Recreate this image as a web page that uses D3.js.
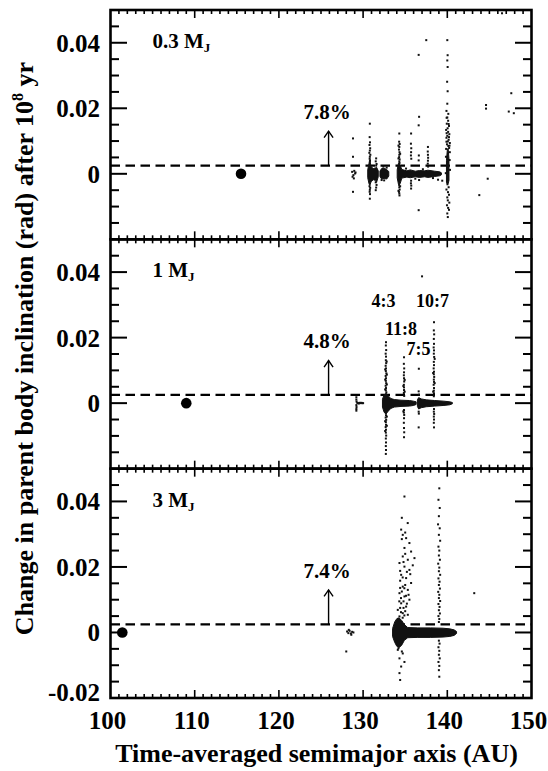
<!DOCTYPE html>
<html><head><meta charset="utf-8">
<script src="https://cdn.jsdelivr.net/npm/d3@7"></script>
<style>
body{margin:0;background:#fff}
svg{display:block}
</style></head><body>
<svg id="c" width="548" height="771"></svg>
<script>
// ---------------- data ----------------
const xDomain = [100, 150];
const yDomain = [-0.02, 0.05];
const xTickLabels = [100, 110, 120, 130, 140, 150];
const yTickLabelsTop = [0.04, 0.02, 0];
const yTickLabelsMid = [0.04, 0.02, 0];
const yTickLabelsBot = [0.04, 0.02, 0, -0.02];
const massLabels = ["0.3", "1", "3"];
const pctLabels = ["7.8%", "4.8%", "7.4%"];
const parentA = [115.5, 109.0, 101.4];
const parentDi = [0, 0, 0];
const threshold = 0.0025;
const arrowA = 125.9, arrowTopV = 0.013;
const resonanceNames = ["4:3", "11:8", "7:5", "10:7"];
const resonanceA = [132.42, 134.5, 136.57, 138.23];
const resonanceV = [0.0292, 0.0208, 0.0147, 0.0292];

// dense regions: [a, lower, upper]
const bandsTop = [
  [[130.55,-0.0012,0.0012],[130.7,-0.003,0.0032],[130.8,-0.0036,0.004],[130.95,-0.0024,0.0022],[131.2,-0.0018,0.0016],[131.45,-0.002,0.0018],[131.6,-0.0026,0.002],[131.8,-0.0009,0.0009]],
  [[132.0,-0.0008,0.0008],[132.2,-0.0016,0.0016],[132.5,-0.0014,0.0017],[132.8,-0.0016,0.0013],[133.05,-0.0007,0.0007]],
  [[134.05,-0.0012,0.0012],[134.2,-0.0032,0.0032],[134.4,-0.003,0.0026],[134.6,-0.0013,0.0013],[135.2,-0.001,0.0009],[135.6,-0.0012,0.0012],[136.2,-0.0009,0.0008],[136.7,-0.0011,0.001],[137.3,-0.0009,0.0009],[137.7,-0.0011,0.0011],[138.5,-0.0008,0.0008],[139.1,-0.0006,0.0006],[139.3,-0.0003,0.0003]],
  [[139.9,-0.0025,0.004],[140.0,-0.0032,0.0072],[140.1,-0.003,0.0078],[140.2,-0.002,0.0045]]
];
const bandsMid = [
  [[132.3,-0.0012,0.0012],[132.5,-0.0028,0.0026],[132.75,-0.0032,0.003],[133.0,-0.0024,0.0022],[133.3,-0.0016,0.0014],[133.7,-0.0012,0.0011],[134.5,-0.001,0.0009],[135.5,-0.0009,0.0008],[136.0,-0.0007,0.0006],[136.3,-0.0004,0.0004]],
  [[136.45,-0.001,0.001],[136.6,-0.0018,0.0017],[136.9,-0.0014,0.0013],[137.5,-0.0011,0.001],[138.5,-0.0009,0.0008],[139.6,-0.0007,0.0006],[140.3,-0.0005,0.0004],[140.6,-0.0002,0.0002]]
];
const bandsBot = [
  [[133.5,-0.0012,0.0012],[133.75,-0.003,0.0032],[134.0,-0.0042,0.0042],[134.3,-0.0046,0.0044],[134.6,-0.0038,0.0036],[134.9,-0.0024,0.0024],[135.3,-0.0016,0.0015],[136.5,-0.0015,0.0014],[138.0,-0.0015,0.0014],[139.5,-0.0014,0.0013],[140.3,-0.0012,0.0011],[140.8,-0.0009,0.0008],[141.1,-0.0003,0.0003]]
];

// individual particles: [a, delta i]
const pointsTop = [
  [128.8,0.0108],[128.8,0.0052],[128.7,0.0006],[128.85,-0.0004],[128.95,0.0009],[129.05,0.0001],[128.75,-0.0009],[129.1,0.0004],[128.9,-0.0014],[128.8,-0.0055],
  [130.8,0.0153],[130.78,0.0112],[130.82,0.0096],[130.76,0.0088],[130.84,0.0078],[130.8,0.0071],[130.74,0.0064],[130.86,0.0058],[130.8,0.0052],[130.78,0.0046],[130.82,0.0041],[130.8,0.0037],[130.76,-0.0038],[130.84,-0.0043],[130.8,-0.0049],[130.78,-0.0055],[130.82,-0.0062],[130.8,-0.0076],
  [131.55,0.0047],[131.5,0.0038],[131.6,0.003],[131.55,0.0025],[131.5,-0.0026],[131.6,-0.0034],[131.55,-0.0042],[131.5,-0.005],
  [132.4,0.0022],[132.8,0.0019],[132.5,-0.002],[132.2,-0.0019],
  [134.3,0.0123],[134.28,0.0098],[134.34,0.0091],[134.3,0.0082],[134.26,0.0074],[134.32,0.0066],[134.3,0.0058],[134.28,0.0051],[134.34,0.0044],[134.3,0.0038],[134.32,0.0033],[134.28,-0.0034],[134.3,-0.0041],[134.34,-0.0048],[134.26,-0.0055],[134.3,-0.006],[134.32,-0.0066],
  [134.2,0.0086],[134.4,0.0061],[134.2,0.0047],[134.4,-0.0038],[134.2,-0.0052],
  [135.7,0.0123],[135.68,0.0092],[135.72,0.0078],[135.7,0.0066],[135.68,0.0056],[135.72,0.0046],[135.7,-0.0021],[135.68,-0.0029],[135.72,-0.0036],[135.7,-0.0045],
  [136.6,0.0363],[136.65,0.0174],[136.6,0.0148],[136.62,0.0056],[136.6,0.0041],[136.65,-0.0019],[136.6,-0.0111],
  [137.5,0.0408],[137.7,0.0082],[137.68,0.0068],[137.7,0.0058],[137.72,0.0049],[137.7,0.004],[137.68,0.0031],[137.72,0.0022],
  [135.1,0.0016],[136.2,-0.0015],[137.1,0.0014],[138.3,-0.0013],[138.9,-0.0018],[139.4,-0.0021],
  [140.0,0.0408],[140.04,0.0362],[140.0,0.0346],[140.04,0.0326],[139.98,0.0281],[140.04,0.0252],[140.0,0.0214],[139.9,0.0192],[140.12,0.0183],[140.0,0.0172],[140.1,0.0162],[139.94,0.0153],[140.2,0.0146],[140.04,0.0139],[139.86,0.0134],[140.1,0.0128],[140.24,0.0121],[140.0,0.0116],[139.9,0.011],[140.16,0.0104],[140.06,0.0099],[140.3,0.0094],[139.96,0.009],[140.12,0.0085],[140.22,0.0079],[139.86,0.0076],[140.3,0.0066],[139.84,0.0052],[140.28,0.0042],[140.32,0.0012],[139.82,0.0002],
  [139.92,0.0171],[140.16,0.0152],[139.92,0.0124],[140.2,0.0112],[139.9,0.0098],[140.26,0.0086],
  [140.02,-0.0032],[140.16,-0.0041],[139.9,-0.0048],[140.08,-0.0056],[140.2,-0.0064],[140.0,-0.0072],[140.06,-0.0081],[140.24,-0.0088],[139.96,-0.0096],[140.1,-0.0104],[140.2,-0.011],[140.0,-0.0121],[140.06,-0.0132],
  [143.8,-0.0065],[144.6,0.021],[144.6,0.0199],[144.8,-0.0015],[146.5,0.049],[147.3,0.019],[147.6,0.0246],[147.9,0.0185]
];
const pointsMid = [
  [129.2,0.0018],[129.2,0.0011],[129.22,0.0005],[129.2,-0.0006],[129.22,-0.0012],[129.2,-0.0018],[129.2,-0.0023],[129.3,0.0001],[129.4,0.0],[129.5,-0.0001],[129.6,0.0001],[129.7,0.0],[129.8,0.0001],[129.9,0.0],[130.0,0.0],
  [132.72,0.0186],[132.7,0.0176],[132.74,0.0162],[132.68,0.0151],[132.72,0.0142],[132.7,0.0131],[132.74,0.0122],[132.68,0.0114],[132.72,0.0106],[132.7,0.0098],[132.76,0.0091],[132.68,0.0083],[132.72,0.0076],[132.7,0.0068],[132.74,0.0061],[132.68,0.0053],[132.72,0.0046],[132.7,0.0039],[132.76,0.0033],[132.7,-0.0031],[132.72,-0.0037],[132.68,-0.0044],[132.74,-0.0051],[132.7,-0.0058],[132.72,-0.0066],[132.68,-0.0073],[132.72,-0.0081],[132.7,-0.009],[132.74,-0.0099],[132.7,-0.0108],[132.72,-0.012],[132.7,-0.0131],[132.72,-0.0143],[132.7,-0.0155],
  [132.8,0.0127],[132.62,0.0103],[132.82,0.0087],[132.62,0.0072],[132.82,0.0057],[132.62,0.0042],[132.82,-0.0041],[132.62,-0.0055],[132.82,-0.0069],[132.62,-0.0085],
  [134.86,0.014],[134.84,0.012],[134.88,0.0106],[134.86,0.0094],[134.84,0.0085],[134.86,0.0076],[134.88,0.0066],[134.84,0.0056],[134.86,0.0048],[134.86,0.004],[134.84,0.0031],[134.88,0.0022],[134.86,-0.0021],[134.84,-0.0029],[134.88,-0.0036],[134.86,-0.0046],[134.84,-0.006],[134.86,-0.0076],[134.88,-0.0089],[134.86,-0.0104],
  [134.94,0.0071],[134.78,0.0052],[134.94,0.0035],[134.78,-0.0025],
  [136.62,0.0105],[136.6,0.0036],[136.64,0.0026],[136.6,-0.0026],[136.62,-0.0032],[136.6,-0.0074],
  [138.42,0.0247],[138.4,0.0222],[138.44,0.021],[138.4,0.0196],[138.42,0.0181],[138.38,0.017],[138.42,0.0161],[138.4,0.0151],[138.44,0.0141],[138.4,0.0126],[138.42,0.0116],[138.38,0.0106],[138.42,0.0096],[138.4,0.0088],[138.44,0.008],[138.4,0.0072],[138.42,0.0065],[138.38,0.0056],[138.42,0.0046],[138.4,0.0038],[138.42,0.003],[138.4,0.0021],[138.42,-0.0018],[138.4,-0.0026],[138.44,-0.0033],[138.4,-0.0041],[138.42,-0.005],[138.4,-0.006],[138.42,-0.0074],
  [138.5,0.0135],[138.32,0.0092],[138.5,0.0061],[138.32,0.0035],
  [137.0,0.0387]
];
const pointsBot = [
  [128.1,0.0003],[128.25,-0.0002],[128.4,0.0005],[128.55,-0.0003],[128.7,0.0002],[128.3,0.0008],[128.6,-0.0007],[128.85,0.0],[128.0,-0.0058],
  [134.91,0.0415],[135.3,0.0334],[134.52,0.0314],[134.71,0.0298],[135.11,0.0288],[135.5,0.0273],[134.91,0.0258],[135.7,0.0247],[134.71,0.0232],[135.31,0.0222],[136.1,0.0227],[134.32,0.0212],[134.91,0.0201],[135.5,0.0191],[134.52,0.0176],[135.11,0.0166],[135.7,0.0151],[134.71,0.014],[135.31,0.013],[134.32,0.012],[134.91,0.011],[135.5,0.01],[134.52,0.0089],[135.11,0.0079],[134.12,0.0069],[134.71,0.0059],[135.31,0.0054],[134.32,0.0049],
  [134.6,0.0285],[135.0,0.024],[134.8,0.0215],[135.2,0.0185],[134.4,0.0158],[135.0,0.0145],[134.6,0.0125],[135.4,0.0115],[134.8,0.0095],[135.2,0.0088],[134.4,0.0075],[135.0,0.0065],[134.7,0.0045],[134.2,0.0042],[135.6,0.0178],[135.9,0.0205],[134.6,0.035],[135.0,0.0305],
  [134.5,0.0105],[134.9,0.0135],[134.3,0.0095],[134.8,0.0075],[134.5,0.0062],[134.9,0.0052],[134.4,0.0136],[135.1,0.0112],[134.7,0.0168],[134.4,0.0188],
  [134.12,-0.0053],[134.71,-0.0064],[134.32,-0.0079],[134.91,-0.009],[134.52,-0.0104],[134.32,-0.0124],[134.4,-0.0145],[134.2,-0.0048],[134.6,-0.0058],
  [139.05,0.044],[138.95,0.0405],[139.1,0.038],[139.0,0.0355],[138.9,0.033],[139.1,0.0318],[139.0,0.0298],[139.15,0.028],[138.95,0.0262],[139.05,0.025],[139.0,0.0235],[139.12,0.0222],[138.92,0.021],[139.05,0.0198],[139.0,0.0187],[139.15,0.0176],[138.95,0.0165],[139.08,0.0155],[139.0,0.0145],[139.12,0.0134],[138.92,0.0124],[139.05,0.0115],[139.0,0.0105],[139.15,0.0096],[138.95,0.0087],[139.08,0.0078],[139.0,0.0068],[139.12,0.0058],[138.95,0.005],[139.05,0.0041],[139.0,0.0032],
  [139.0,-0.0025],[139.08,-0.0034],[138.95,-0.0045],[139.05,-0.0056],[139.0,-0.0068],[139.1,-0.0079],[138.95,-0.009],[139.05,-0.0102],[139.0,-0.0115],[139.05,-0.0135],
  [143.2,0.012]
];

// ---------------- layout ----------------
const FONT = "'Liberation Serif', 'Times New Roman', Times, 'Nimbus Roman', 'DejaVu Serif', serif";
const left = 110.5, right = 531.5, top0 = 10, bottom = 698;
const panelH = (bottom - top0) / 3;
const svg = d3.select("#c");
const x = d3.scaleLinear().domain(xDomain).range([left, right]);
const txt = sel => sel.attr("font-family", FONT).attr("font-weight", "bold").attr("fill", "#000");

const panels = [
  {bands: bandsTop, pts: pointsTop, yt: yTickLabelsTop},
  {bands: bandsMid, pts: pointsMid, yt: yTickLabelsMid},
  {bands: bandsBot, pts: pointsBot, yt: yTickLabelsBot}
];

const yMinor = d3.range(-3, 10).map(i => i * 0.005);
const xMinor = d3.range(101, 150);

panels.forEach((p, k) => {
  const t = top0 + k * panelH;
  const y = d3.scaleLinear().domain(yDomain).range([t + panelH, t]);
  const g = svg.append("g");

  g.append("line").attr("x1", x(xDomain[0])).attr("x2", x(xDomain[1]))
    .attr("y1", y(threshold)).attr("y2", y(threshold))
    .attr("stroke", "#000").attr("stroke-width", 2.2).attr("stroke-dasharray", "9.5,5.5");

  const area = d3.area().x(d => x(d[0])).y0(d => y(d[1])).y1(d => y(d[2]));
  g.selectAll("path.band").data(p.bands).join("path").attr("class", "band")
    .attr("d", area).attr("fill", "#111").attr("stroke", "#111").attr("stroke-width", 1);

  g.selectAll("rect.pt").data(p.pts).join("rect").attr("class", "pt")
    .attr("x", d => x(d[0]) - 1).attr("y", d => y(d[1]) - 1)
    .attr("width", 2).attr("height", 2).attr("fill", "#111");

  g.append("circle").attr("cx", x(parentA[k])).attr("cy", y(parentDi[k])).attr("r", 5.3).attr("fill", "#000");

  const ax = x(arrowA), ay0 = y(threshold), ay1 = y(arrowTopV);
  g.append("line").attr("x1", ax).attr("x2", ax).attr("y1", ay0).attr("y2", ay1)
    .attr("stroke", "#000").attr("stroke-width", 1.4);
  g.append("path").attr("d", `M${ax - 4.5},${ay1 + 6.5}L${ax},${ay1}L${ax + 4.5},${ay1 + 6.5}`)
    .attr("fill", "none").attr("stroke", "#000").attr("stroke-width", 1.4);
  g.append("text").attr("x", ax - 1.5).attr("y", ay0 - 46.5).attr("text-anchor", "middle")
    .attr("font-size", 21).call(txt).text(pctLabels[k]);

  const ml = g.append("text").attr("x", 152.5).attr("y", t + 38).attr("font-size", 21).call(txt);
  ml.append("tspan").text(massLabels[k] + " M");
  ml.append("tspan").attr("font-size", 13).attr("dy", 4).text("J");

  g.append("rect").attr("x", left).attr("y", t).attr("width", right - left).attr("height", panelH)
    .attr("fill", "none").attr("stroke", "#000").attr("stroke-width", 2.6);

  yMinor.forEach(v => {
    const r = Math.abs(v / 0.02 - Math.round(v / 0.02));
    const len = r < 1e-6 ? 16.5 : 8.5;
    g.append("line").attr("x1", left).attr("x2", left + len).attr("y1", y(v)).attr("y2", y(v))
      .attr("stroke", "#000").attr("stroke-width", 2);
    g.append("line").attr("x1", right).attr("x2", right - len).attr("y1", y(v)).attr("y2", y(v))
      .attr("stroke", "#000").attr("stroke-width", 2);
  });
  xMinor.forEach(a => {
    const len = a % 10 === 0 ? 8 : 4;
    g.append("line").attr("x1", x(a)).attr("x2", x(a)).attr("y1", t).attr("y2", t + len)
      .attr("stroke", "#000").attr("stroke-width", 1.6);
    g.append("line").attr("x1", x(a)).attr("x2", x(a)).attr("y1", t + panelH).attr("y2", t + panelH - len)
      .attr("stroke", "#000").attr("stroke-width", 1.6);
  });

  g.selectAll("text.yl").data(p.yt).join("text").attr("class", "yl")
    .attr("x", 100).attr("y", d => y(d) + (d === -0.02 ? 2.5 : 9)).attr("text-anchor", "end")
    .attr("font-size", 25).call(txt).text(d => String(d));

  if (k === 1) {
    g.selectAll("text.res").data(resonanceNames).join("text").attr("class", "res")
      .attr("x", (d, i) => x(resonanceA[i])).attr("y", (d, i) => y(resonanceV[i]))
      .attr("text-anchor", "middle").attr("font-size", 18).call(txt).text(d => d);
  }
});

svg.selectAll("text.xl").data(xTickLabels).join("text").attr("class", "xl")
  .attr("x", d => x(d) - 3).attr("y", 729).attr("text-anchor", "middle")
  .attr("font-size", 25).call(txt).text(d => d);

svg.append("text").attr("x", 316.5).attr("y", 762).attr("text-anchor", "middle")
  .attr("font-size", 26).call(txt).text("Time-averaged semimajor axis (AU)");
const yl = svg.append("text").attr("transform", "translate(33,348.5) rotate(-90)")
  .attr("text-anchor", "middle").attr("font-size", 26).call(txt);
yl.append("tspan").text("Change in parent body inclination (rad) after 10");
yl.append("tspan").attr("font-size", 16).attr("dy", -10).text("8");
yl.append("tspan").attr("dy", 10).text(" yr");
</script>
</body></html>
